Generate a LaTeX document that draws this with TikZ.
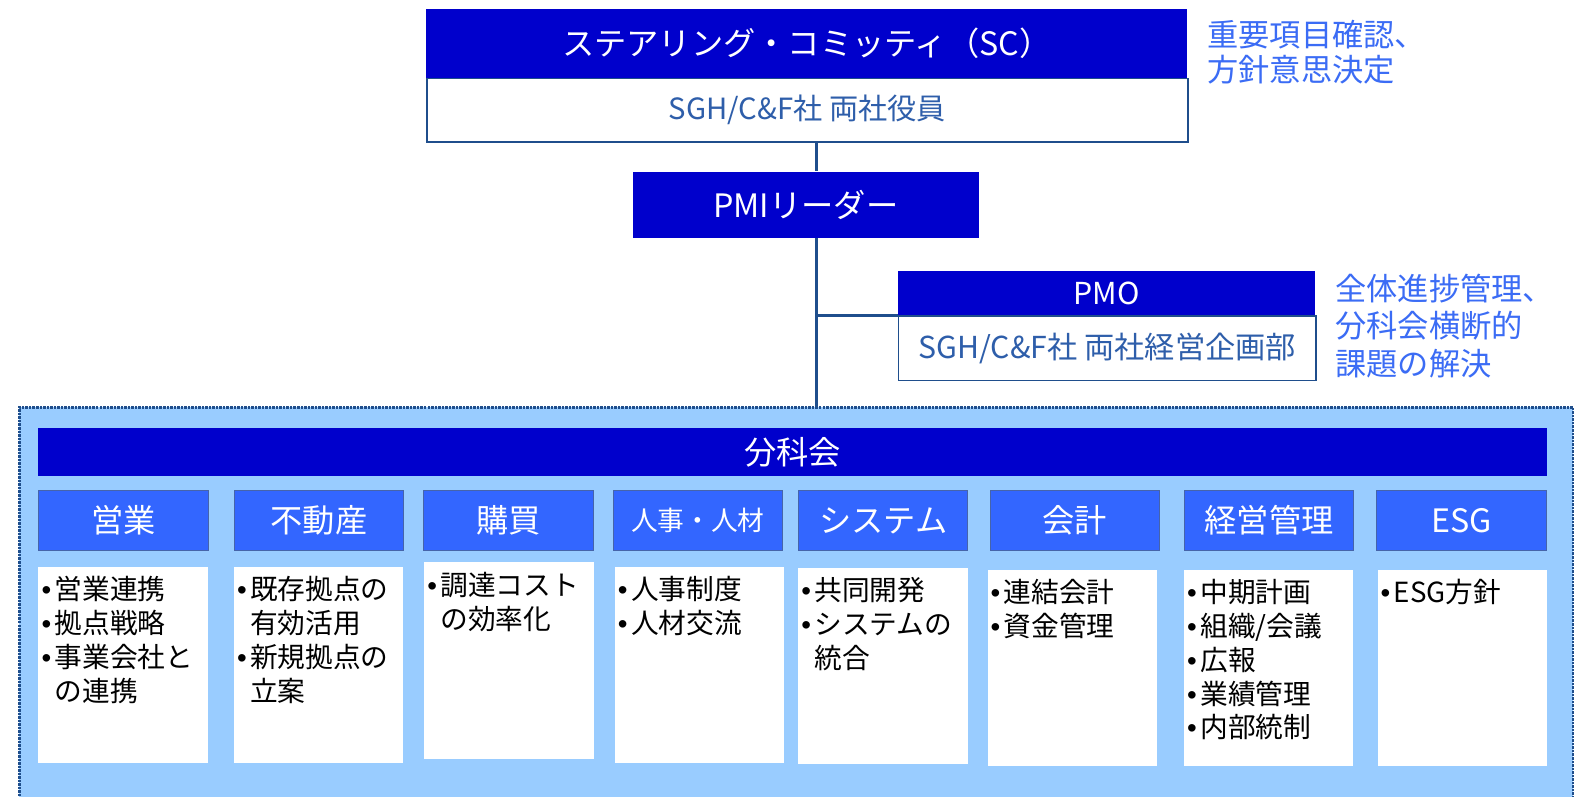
\documentclass[tikz,border=0pt]{standalone}
\usepackage{fontspec}
\setmainfont{Noto Sans CJK JP}
\newfontfamily\bfont{Liberation Sans}
\definecolor{dkblue}{RGB}{0,0,204}
\definecolor{catblue}{RGB}{51,102,255}
\definecolor{catborder}{RGB}{70,100,170}
\definecolor{contblue}{RGB}{153,204,255}
\definecolor{navy}{RGB}{31,78,140}
\definecolor{bodytxt}{RGB}{46,94,170}
\definecolor{notetxt}{RGB}{59,108,245}
\newcommand\bl{\makebox[13pt][l]{\bfont •}}
\newcommand\ii{\hspace*{13pt}}
\begin{document}
\begin{tikzpicture}[x=1pt,y=-1pt,
 box/.style={rectangle, inner sep=0pt, anchor=north west},
 hdr/.style={box, fill=dkblue, text=white},
 bodybox/.style={box, fill=white, draw=navy, line width=1.5pt, text=bodytxt},
 cat/.style={box, fill=catblue, draw=catborder, line width=1pt, text=white, minimum width=168pt, minimum height=60pt, font=\fontsize{32}{38}\selectfont},
 content/.style={box, fill=white, minimum width=168pt, minimum height=195pt},
 ctext/.style={anchor=north west, inner sep=0pt, align=left, font=\fontsize{27.5}{33.5}\selectfont, text=black},
 note/.style={anchor=north west, inner sep=0pt, align=left, text=notetxt},
 conn/.style={draw=navy, line width=3pt}
]
\useasboundingbox (0,0) rectangle (1568,790);
\fill[white] (0,0) rectangle (1568,790);
\coordinate (spine) at (810,0);

% Steering committee
\node[hdr, minimum width=755pt, minimum height=68pt, font=\fontsize{32}{38}\selectfont] (sch) at (423,9) {ステアリング・コミッティ（SC）};
\node[bodybox, minimum width=755pt, minimum height=63pt, font=\fontsize{29}{34}\selectfont] (scb) at (423,77) {SGH/C\&F社 両社役員};
\node[note, font=\fontsize{31}{35}\selectfont] (n1) at (1198,20) {重要項目確認、\\方針意思決定};

% PMI leader
\node[hdr, minimum width=343pt, minimum height=66pt, font=\fontsize{32}{38}\selectfont] (pmi) at (628,170) {PMIリーダー};

% PMO
\node[hdr, minimum width=414pt, minimum height=44pt, font=\fontsize{30}{36}\selectfont] (pmoh) at (891,269) {PMO};
\node[bodybox, minimum width=414pt, minimum height=64pt, font=\fontsize{30}{36}\selectfont] (pmob) at (891,313) {SGH/C\&F社 両社経営企画部};
\node[note, font=\fontsize{31}{37}\selectfont] (n2) at (1325,272) {全体進捗管理、\\分科会横断的\\課題の解決};

% container
\node[box, fill=contblue, draw=navy, line width=2.5pt, densely dotted, minimum width=1542pt, minimum height=400pt] (cont) at (18,403) {};
\node[hdr, minimum width=1497pt, minimum height=47pt, font=\fontsize{32}{38}\selectfont] (bk) at (38,425) {分科会};

% categories
\node[cat] (c1) at (38,486) {営業};
\node[cat] (c2) at (232,486) {不動産};
\node[cat] (c3) at (420,486) {購買};
\node[cat, font=\fontsize{26.5}{32}\selectfont] (c4) at (608,486) {人事・人材};
\node[cat] (c5) at (792,486) {システム};
\node[cat] (c6) at (982,486) {会計};
\node[cat] (c7) at (1175,486) {経営管理};
\node[cat] (c8) at (1366,486) {ESG};

% content boxes
\node[content] (b1) at (38,562) {};
\node[content] (b2) at (232,562) {};
\node[content] (b3) at (421,558) {};
\node[content] (b4) at (610,562) {};
\node[content] (b5) at (792,563) {};
\node[content] (b6) at (980,565) {};
\node[content] (b7) at (1175,565) {};
\node[content] (b8) at (1367,565) {};

\node[ctext] (t1) at ([shift={(3,10)}]b1.north west) {\bl 営業連携\\\bl 拠点戦略\\\bl 事業会社と\\\ii の連携};
\node[ctext] (t2) at ([shift={(3,10)}]b2.north west) {\bl 既存拠点の\\\ii 有効活用\\\bl 新規拠点の\\\ii 立案};
\node[ctext] (t3) at ([shift={(3,10)}]b3.north west) {\bl 調達コスト\\\ii の効率化};
\node[ctext] (t4) at ([shift={(3,10)}]b4.north west) {\bl 人事制度\\\bl 人材交流};
\node[ctext] (t5) at ([shift={(3,10)}]b5.north west) {\bl 共同開発\\\bl システムの\\\ii 統合};
\node[ctext] (t6) at ([shift={(3,10)}]b6.north west) {\bl 連結会計\\\bl 資金管理};
\node[ctext] (t7) at ([shift={(3,10)}]b7.north west) {\bl 中期計画\\\bl 組織/会議\\\bl 広報\\\bl 業績管理\\\bl 内部統制};
\node[ctext] (t8) at ([shift={(3,10)}]b8.north west) {\bl ESG方針};

% connectors
\draw[conn] (scb.south -| spine) -- (pmi.north -| spine);
\draw[conn] (pmi.south -| spine) -- (cont.north -| spine);
\draw[conn] (pmoh.south west) -- (pmoh.south west -| spine);
\end{tikzpicture}
\end{document}
